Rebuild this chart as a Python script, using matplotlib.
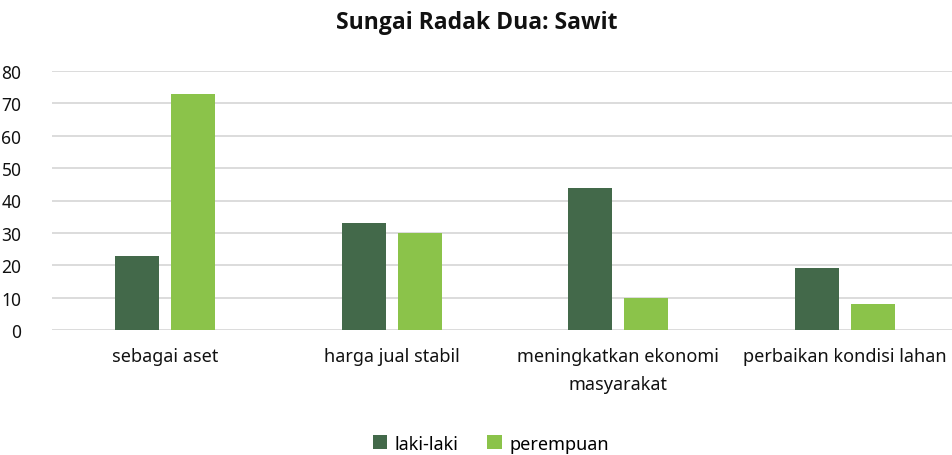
import matplotlib.pyplot as plt
import numpy as np

plt.rcParams['font.family'] = ['Noto Sans', 'DejaVu Sans']

categories = ["sebagai aset", "harga jual stabil", "meningkatkan ekonomi\nmasyarakat", "perbaikan kondisi lahan"]
laki = [23, 33, 44, 19]
perempuan = [73, 30, 10, 8]

dark = "#43694a"
light = "#8bc34a"

fig = plt.figure(figsize=(9.53, 4.56), dpi=100)
ax = fig.add_axes([52/953, 125/456, 906/953, 259/456])

x = np.arange(len(categories))
w = 0.195
off = 0.124
ax.bar(x - off, laki, w, color=dark, label="laki-laki", zorder=3)
ax.bar(x + off, perempuan, w, color=light, label="perempuan", zorder=3)

ax.set_xlim(-0.5, 3.5)
ax.set_ylim(0, 80)
ax.set_yticks(range(0, 81, 10))
ax.grid(axis='y', color='#d9d9d9', linewidth=1.3, zorder=0)
for s in ax.spines.values():
	s.set_visible(False)
ax.tick_params(length=0, labelsize=12.5, colors='#111111')
ax.tick_params(axis='y', pad=22)
ax.set_xticks(x)
ax.set_xticklabels(categories, linespacing=1.75, va='top', fontsize=13)
ax.tick_params(axis='x', pad=12)

fig.text(0.5, 0.95, "Sungai Radak Dua: Sawit", ha='center', va='center', fontsize=16.5,
	fontweight='bold', family=['Open Sans', 'DejaVu Sans'], color='#111111')

fig.legend(loc='center', bbox_to_anchor=(0.515, 0.025), ncol=2, frameon=False, fontsize=13,
	handlelength=0.8, handleheight=0.8, handletextpad=0.4, columnspacing=1.6)

fig.savefig("out.png", dpi=100)
